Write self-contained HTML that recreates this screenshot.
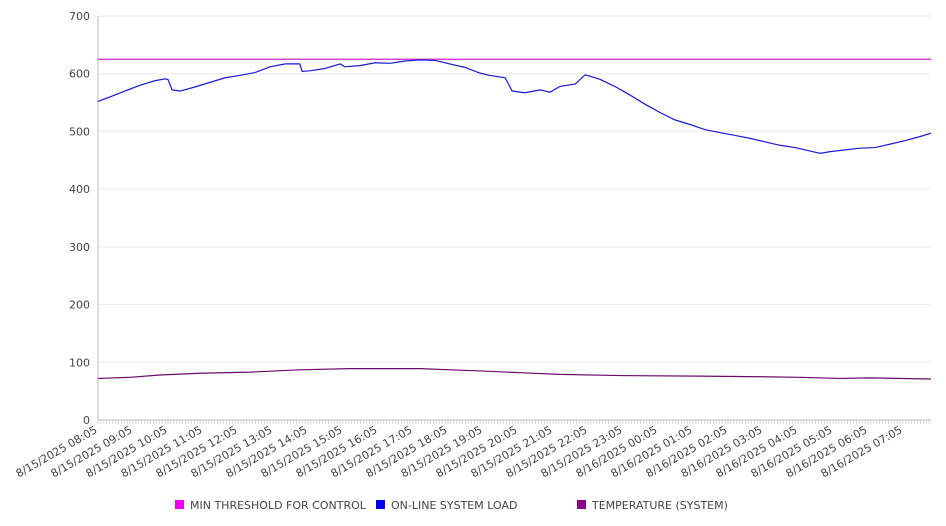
<!DOCTYPE html>
<html><head><meta charset="utf-8"><style>
body{margin:0;background:#fff;}
svg{display:block;font-family:"DejaVu Sans","Liberation Sans",sans-serif;}
</style></head><body>
<svg id="chart" width="946" height="526"></svg>
<script>
const yTicks=[0,100,200,300,400,500,600,700];
const xLabels=["8/15/2025 08:05","8/15/2025 09:05","8/15/2025 10:05","8/15/2025 11:05","8/15/2025 12:05","8/15/2025 13:05","8/15/2025 14:05","8/15/2025 15:05","8/15/2025 16:05","8/15/2025 17:05","8/15/2025 18:05","8/15/2025 19:05","8/15/2025 20:05","8/15/2025 21:05","8/15/2025 22:05","8/15/2025 23:05","8/16/2025 00:05","8/16/2025 01:05","8/16/2025 02:05","8/16/2025 03:05","8/16/2025 04:05","8/16/2025 05:05","8/16/2025 06:05","8/16/2025 07:05"];
const threshold=625;
const loadMinutes=[0,21,46,72,98,115,120,127,141,166,192,218,243,269,295,321,346,350,363,389,415,423,449,475,501,526,552,578,603,629,655,672,698,710,732,758,775,792,818,835,843,861,886,912,938,963,989,1015,1041,1066,1092,1118,1143,1169,1195,1221,1238,1255,1281,1306,1332,1358,1383,1409,1428];
const loadValues=[552,560,570,580,588,591,590,572,570,577,585,593,597,602,612,617,617,604,605,609,617,612,614,619,618,622,624,623,617,611,601,597,593,570,567,572,568,578,582,598,596,590,578,563,547,533,520,512,503,498,493,488,482,476,472,466,462,465,468,471,472,478,484,491,497];
const tempMinutes=[0,55,106,175,261,346,432,552,603,655,723,792,895,1032,1135,1204,1272,1324,1428];
const tempValues=[72,74,78,81,83,87,89,89,87,85,82,79,77,76,75,74,72,73,71];

const NS="http://www.w3.org/2000/svg";
const svg=document.getElementById('chart');
const X0=98,X1=931,Y0=420,Y1=16,MAXM=1428;
const xs=m=>X0+(X1-X0)*m/MAXM;
const ys=v=>Y0-(Y0-Y1)*v/700;
function mk(t,a){const e=document.createElementNS(NS,t);for(const k in a)e.setAttribute(k,a[k]);svg.appendChild(e);return e;}

yTicks.forEach(v=>{
  const g=mk('line',{x1:X0,x2:X1,y1:ys(v),y2:ys(v),stroke:v===0?'#bbb':'#e8e8e8','stroke-width':1});
  
  
  const t=mk('text',{x:90,y:ys(v)+4,'text-anchor':'end','font-size':11,fill:'#444'});
  t.textContent=v;
  
  
});
const ax=mk('line',{x1:X0,x2:X0,y1:Y1,y2:Y0,stroke:'#bbb'});


for(let m=0;m<=MAXM;m+=5){
  const tk=mk('line',{x1:xs(m),x2:xs(m),y1:Y0,y2:Y0+4,stroke:'#ccc','stroke-width':0.8});
  
  
}
xLabels.forEach((s,i)=>{
  const x=xs(i*60);
  const t=mk('text',{x:x,y:Y0+12,'text-anchor':'end','font-size':11,fill:'#444',transform:`rotate(-30 ${x} ${Y0+12})`});
  t.textContent=s;
  
  
});
const th=mk('line',{x1:X0,x2:X1,y1:ys(threshold),y2:ys(threshold),stroke:'#cc22cc','stroke-width':1.2});


const lp=mk('polyline',{points:loadMinutes.map((m,i)=>xs(m)+','+ys(loadValues[i])).join(' '),fill:'none',stroke:'#1a1acc','stroke-width':1.2});


const tp=mk('polyline',{points:tempMinutes.map((m,i)=>xs(m)+','+ys(tempValues[i])).join(' '),fill:'none',stroke:'#6a0a6a','stroke-width':1.2});



const leg=[["MIN THRESHOLD FOR CONTROL","#ee00ee",175],["ON-LINE SYSTEM LOAD","#0000ee",376],["TEMPERATURE (SYSTEM)","#880088",577]];
leg.forEach(l=>{
  const r=mk('rect',{x:l[2],y:500,width:9,height:9,fill:l[1]});
  
  
  const t=mk('text',{x:l[2]+15,y:509,'font-size':11,fill:'#444'});
  t.textContent=l[0];
  
  
});
</script>
</body></html>
